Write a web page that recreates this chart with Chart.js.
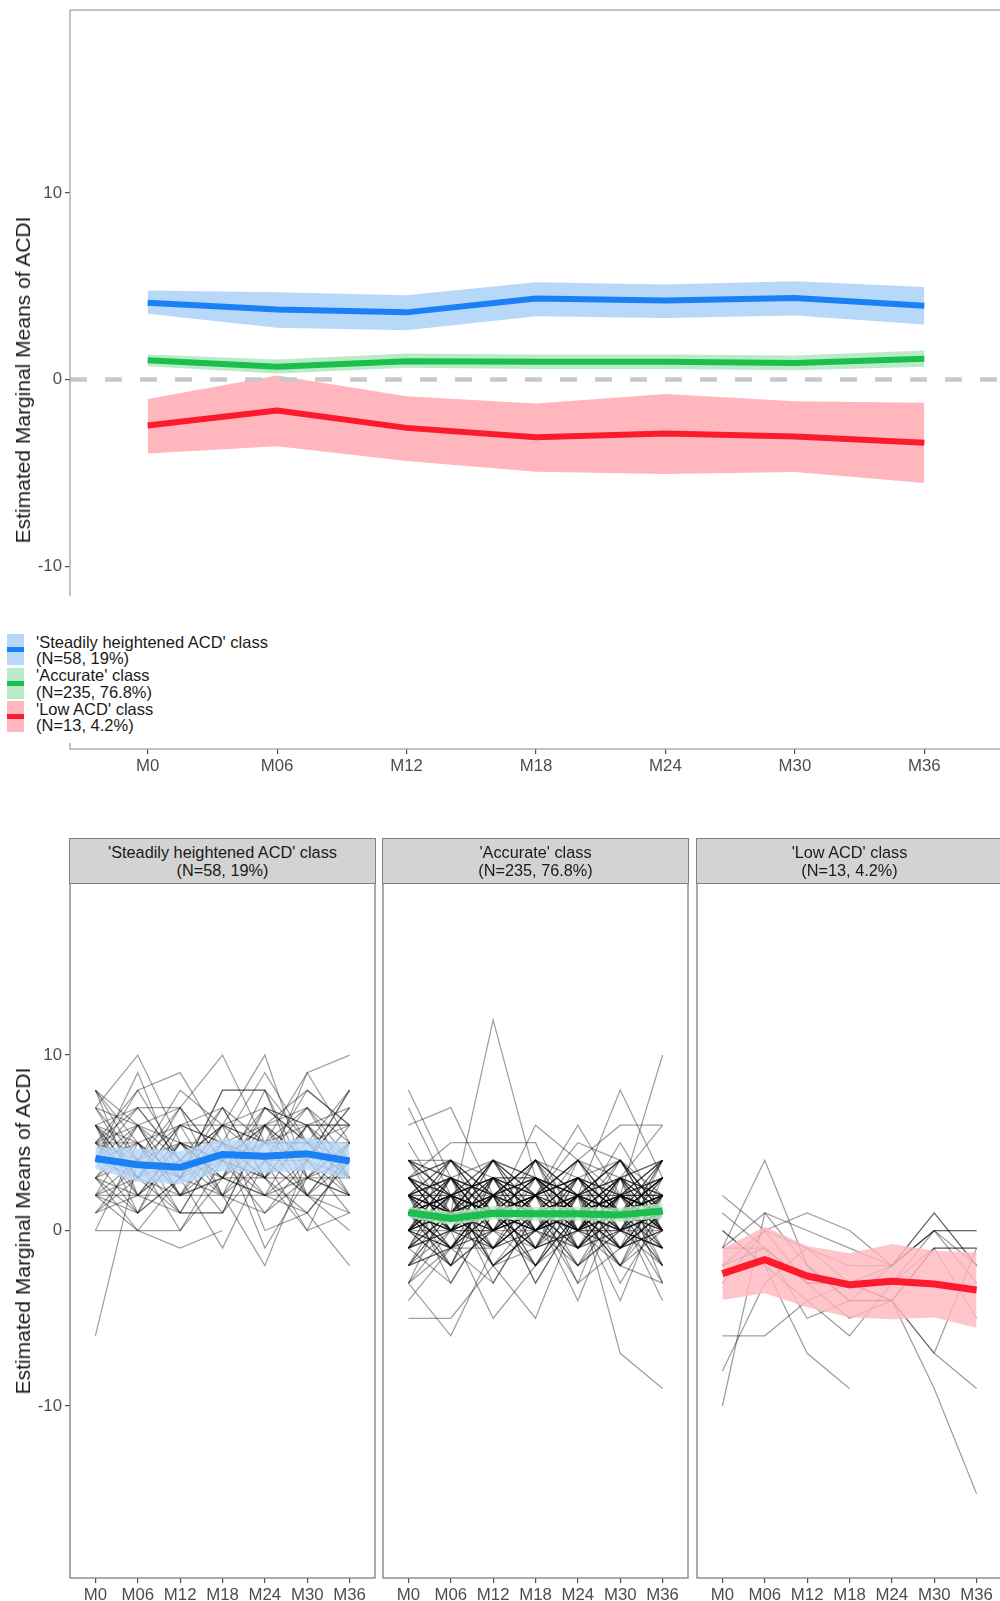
<!DOCTYPE html>
<html>
<head>
<meta charset="utf-8">
<script src="https://cdn.jsdelivr.net/npm/chart.js@4.4.1/dist/chart.umd.min.js"></script>
<style>
  html, body { margin: 0; padding: 0; background: #fff; }
  body { width: 1000px; height: 1601px; position: relative; overflow: hidden;
         font-family: "Liberation Sans", Arial, Helvetica, sans-serif; color: #1a1a1a; }
  canvas { position: absolute; }
  .ytitle { position: absolute; white-space: nowrap; font-size: 21px; color: #1a1a1a;
            transform: translate(-50%, -50%) rotate(-90deg); }
  .legend { position: absolute; left: 0; top: 596px; width: 280px; height: 147px; background: #fff; }
  .key { position: absolute; left: 7px; width: 17px; height: 31px; }
  .key div { position: absolute; left: 0; right: 0; top: 13px; height: 5px; }
  .ltext { position: absolute; left: 36px; font-size: 16.5px; line-height: 16.6px; white-space: nowrap; }
  .strip { position: absolute; box-sizing: border-box; background: #d3d3d3;
           border: 1.3px solid #808080; display: flex; align-items: center; justify-content: center;
           text-align: center; font-size: 16.3px; line-height: 18px; color: #1a1a1a; }
</style>
</head>
<body>

<canvas id="top" width="1010" height="773" style="left:0;top:0"></canvas>
<canvas id="p0" width="377" height="729" style="left:0;top:873px"></canvas>
<canvas id="p1" width="309" height="729" style="left:381px;top:873px"></canvas>
<canvas id="p2" width="309" height="729" style="left:695px;top:873px"></canvas>

<div class="ytitle" style="left:23px;top:380px">Estimated Marginal Means of ACDI</div>
<div class="ytitle" style="left:23px;top:1231px">Estimated Marginal Means of ACDI</div>

<div class="legend"></div>

<script>
'use strict'

// time points
const months = ['M0', 'M06', 'M12', 'M18', 'M24', 'M30', 'M36']
const classLabels = ["'Steadily heightened ACD' class", "'Accurate' class", "'Low ACD' class"]
const classCounts = ['(N=58, 19%)', '(N=235, 76.8%)', '(N=13, 4.2%)']

// estimated marginal means + confidence band
const blueMean  = [4.11, 3.75, 3.60, 4.34, 4.23, 4.37, 3.96]
const blueUpper = [4.77, 4.68, 4.52, 5.21, 5.09, 5.27, 4.96]
const blueLower = [3.52, 2.77, 2.64, 3.39, 3.30, 3.43, 2.95]

const greenMean  = [1.03, 0.68, 0.98, 0.95, 0.96, 0.89, 1.11]
const greenUpper = [1.34, 1.07, 1.39, 1.34, 1.34, 1.29, 1.55]
const greenLower = [0.71, 0.32, 0.63, 0.57, 0.57, 0.50, 0.68]

const redMean  = [-2.46, -1.66, -2.59, -3.09, -2.89, -3.05, -3.39]
const redUpper = [-1.04, 0.21, -0.89, -1.29, -0.77, -1.16, -1.25]
const redLower = [-3.96, -3.57, -4.37, -4.94, -5.06, -4.96, -5.54]

const refValue = 0
const yTicks = [-10, 0, 10]

// individual trajectories per class
const steadyPeople = [
    [8, 4, 3, 5, 4, 7, 5],
    [8, 6, 2, 4, 7, 5, 3],
    [7, 10, 5, 3, 6, 4, 8],
    [6, 3, 7, 10, 5, 6, 4],
    [5, 2, 4, 6, 10, 3, 2],
    [4, 8, 9, 5, 3, 9, 10],
    [3, 5, 3, 8, 8, 5, 6],
    [2, 2, 2, 2, 2, 2, 2],
    [2, 4, 0, 3, 3, 3, 3],
    [1, 3, 6, 2, 1, 4, 1],
    [0, 5, 1, 1, 4, 0, 5],
    [0, 0, 0, 4, 5, 2, 0],
    [-6, 4, 5, 5, 3, 6, 6],
    [4, 7, 4, 7, 5, 5, 5],
    [5, 7, 7, 4, 6, 8, 6],
    [6, 1, 3, 6, 0, 1, 4],
    [3, 0, -1, 0, null, null, null],
    [4, 3, 1, 1, 6, 7, 3],
    [7, 6, 7, 2, -2, 4, 7],
    [8, 2, 4, 1, 6, 4, 8],
    [3, 6, 2, 5, -1, 3, 2],
    [5, 5, 6, 6, 6, 6, 6],
    [2, 1, 3, -1, 4, 2, 1],
    [6, 4, 8, 6, 7, 5, 4],
    [1, 2, 5, 3, 2, 1, -2],
    [4, 9, 3, 8, 8, 2, 5],
    [5, 3, 5, 3, 2, 6, 7],
    [7, 4, 1, 5, 9, 5, 3],
    [3, 1, 6, 7, 3, 0, 1],
    [6, 5, 2, 3, 5, 9, 5],
    [2, 3, 4, 4, 1, 3, 4],
    [5, 6, 3, 2, 4, 4, 2],
    [4, 5, 2, 3, 7, 6, 3],
    [6, 2, 5, 4, 3, 5, 8],
    [3, 4, 6, 5, 4, 2, 5],
    [5, 8, 4, 6, 5, 7, 4],
    [2, 0, 3, 4, 6, 3, 5],
    [7, 3, 2, 6, 4, 8, 6],
    [4, 6, 5, 2, 5, 4, 3],
    [1, 4, 3, 7, 3, 6, 2],
    [6, 7, 4, 3, 8, 3, 5],
    [3, 2, 1, 5, 2, 4, 7],
    [5, 4, 7, 4, 3, 1, 4],
    [8, 5, 3, 6, 5, 5, 2],
    [2, 6, 4, 2, 7, 6, 3],
    [4, 1, 5, 4, 2, 3, 6],
    [6, 3, 6, 5, 6, 2, 4]
]

const accuratePeople = [
    [8, 3, 1, 2, 0, 1, 2],
    [7, 2, 0, 1, 3, 2, 1],
    [6, 7, 2, 0, 1, 3, 4],
    [5, 1, 12, 3, 2, 0, 1],
    [4, 4, 3, 2, 6, 2, 10],
    [4, 2, 4, 1, 2, 8, 3],
    [3, 0, 4, 2, 4, 6, 6],
    [3, 5, 5, 5, 0, 2, 2],
    [2, 3, 1, 6, 4, 1, 0],
    [2, -1, 2, 4, 3, 4, 2],
    [1, 2, 3, 3, 2, 3, 4],
    [1, 0, -1, 0, 1, -1, 0],
    [0, 1, 2, 0, -1, 2, 3],
    [0, -2, 0, 2, 0, 0, -1],
    [-1, 1, 0, -1, 2, 1, 2],
    [-1, 0, 3, 1, -2, 0, 1],
    [-2, 2, 1, -2, 1, -2, 0],
    [-2, -1, -3, 1, 3, 1, -2],
    [-3, 0, 1, 2, 0, 3, 1],
    [-3, 2, -2, 0, 2, -1, 4],
    [-4, -1, 2, -3, 1, 2, 0],
    [-5, -5, -2, 0, -1, 1, -1],
    [4, 3, 2, 4, 2, 1, 3],
    [3, 4, 1, 0, 3, 2, -1],
    [2, 1, 4, 3, 1, 0, 2],
    [1, 3, 0, 4, 2, 4, 1],
    [0, 2, -2, -1, 4, 1, 3],
    [-1, -3, 1, 2, -3, -1, 2],
    [2, 0, 2, -2, 0, 3, -3],
    [1, -2, 3, 1, -1, 2, 0],
    [0, 0, 1, 3, 2, -3, 1],
    [3, 1, -1, 2, 4, 0, 4],
    [1, 4, 2, 1, 0, 2, -2],
    [4, 0, 0, 3, 1, 3, 2],
    [-2, 1, 4, 0, 2, -2, 3],
    [2, 2, -3, 1, -2, 0, 1],
    [0, 3, 2, -3, 1, 4, 0],
    [1, -1, 0, 2, 3, 1, -4],
    [3, 2, 3, -1, 0, -1, 1],
    [-1, 1, 2, 4, -1, 3, 2],
    [2, -3, 1, 0, 2, 2, 4],
    [0, 1, 4, 2, -2, 1, 0],
    [1, 2, -2, -5, 1, -4, 2],
    [-3, -6, -1, 1, 0, -2, -3],
    [2, 0, -5, -2, 1, 0, 3],
    [1, 3, 1, 1, -4, 2, -1],
    [0, -2, 2, 3, 2, -7, -9],
    [3, 1, 0, 2, 1, 5, 1],
    [2, 4, 1, -1, 3, 1, 2],
    [-1, 0, -1, 1, 0, 3, -2],
    [1, 1, 3, 0, 2, -1, 1],
    [4, 2, 1, 3, -1, 2, 0],
    [0, 3, 0, 1, 1, 0, 4],
    [2, 1, 2, 2, 3, 1, -1],
    [-2, 0, 4, 3, 0, 2, 1],
    [1, -1, 1, -2, 2, 1, 3],
    [3, 0, 2, 1, -3, 3, 0],
    [0, 2, 3, 0, 1, -1, 2],
    [2, -2, 0, 4, 2, 0, -2],
    [1, 2, 1, 2, 5, 4, 1],
    [-1, 3, -1, 1, 1, 2, 2],
    [2, 1, 0, 0, 2, 3, 6],
    [0, -1, 2, -1, 0, 1, -3],
    [1, 0, 1, 3, 1, -2, 1],
    [1, 2, 0, 1, 3, 2, 0],
    [2, 0, 1, 3, 1, 0, 2],
    [0, 1, 3, 2, 0, 1, 1],
    [3, 2, 1, 0, 2, 3, 1],
    [1, -1, 2, 1, 0, 2, 3],
    [-1, 1, 1, 2, 1, -1, 0],
    [2, 3, 2, 1, -1, 1, 2],
    [0, 2, -1, 0, 2, 4, 1],
    [4, 1, 2, 3, 0, 0, -1],
    [1, 0, 3, -1, 1, 2, 0],
    [2, 1, -1, 2, 4, 1, 3],
    [0, -1, 0, 1, 1, 3, 2],
    [3, 4, 2, 0, 1, -1, 1],
    [1, 2, 4, 2, 3, 0, -1],
    [-1, 0, 2, 3, 1, 2, 4],
    [2, 3, 0, -2, 2, 1, 0],
    [1, 1, -2, 1, 0, 2, 1],
    [0, 4, 1, 2, -1, 0, 3],
    [3, 0, 3, 1, 2, 4, 0],
    [-2, 1, 0, 2, 3, 0, 1],
    [1, 3, 2, 4, 0, 1, 2],
    [2, -1, 1, 0, 1, 3, -1],
    [0, 2, 3, 1, 4, 2, 1],
    [4, 3, 0, 2, 1, -2, 2],
    [1, 0, 1, -1, 3, 1, 4],
    [-3, -1, 1, 0, 1, 2, 1],
    [2, 2, 3, 1, -1, 0, 0],
    [0, 1, -1, 3, 2, 1, 3],
    [3, 1, 2, 2, 0, 3, 1],
    [1, 4, 0, 1, 2, -1, 0],
    [2, 0, 2, 4, 1, 1, 2],
    [-1, 2, 1, -1, 0, 4, 1],
    [1, -2, 3, 2, 3, 0, 2],
    [0, 1, 1, 0, -2, 2, 4],
    [3, 2, -1, 1, 2, 1, -2],
    [2, 4, 2, 3, 1, 2, 1],
    [1, 0, 0, 2, 4, 3, 0],
    [0, 3, 4, 1, 0, -1, 2],
    [4, 2, 1, -1, 2, 0, 1],
    [-2, -1, 2, 1, 1, 1, 3],
    [1, 1, 1, 3, -1, 2, 1],
    [2, 3, -2, 0, 3, 1, 2],
    [0, -1, 3, 2, 2, 0, -1],
    [3, 0, 1, 4, 0, 2, 3],
    [1, 2, 2, -2, 1, 3, 0],
    [-1, 3, 0, 1, 3, -1, 1],
    [2, 1, 4, 0, 2, 2, 2],
    [0, 2, 1, 2, -1, 1, 4],
    [1, -1, -1, 1, 2, 4, 0],
    [3, 1, 3, 3, 1, 0, 1]
]

const lowPeople = [
    [-1, 4, -2, -4, -2, 0, -2],
    [-10, 1, 0, -1, -2, 1, -2],
    [-8, -3, -1, -3, -2, 0, 0],
    [-6, -6, -4, -3, -3, -1, -1],
    [2, 0, -3, -3, -4, -7, -9],
    [1, -1, -5, -4, -4, -9, -15],
    [0, -2, -7, -9, null, null, null],
    [-2, 0, 1, 0, -2, 1, -2],
    [-3, 0, -1, -2, -2, 0, 0],
    [-1, 1, -2, -4, -4, -1, -5],
    [-1, -1, -3, -5, -4, -1, -1],
    [0, -2, -4, -6, -3, 0, -3],
    [-2, -1, -3, -3, -4, -7, -1]
]

const colors = {
    blue:  { line: '#1a80f5', band: '#b8d8fa' },
    green: { line: '#1bbf4b', band: '#b9ebc8' },
    red:   { line: '#fc1b2d', band: '#ffb7bd' }
}

const tickFont = { size: 16.8, family: '"Liberation Sans", Arial' }

const xy = arr => arr.map((v, i) => ({ x: i, y: v }))

const frame = color => ({
    id: 'frame',
    afterDraw (chart) {
        const a = chart.chartArea
        const ctx = chart.ctx
        ctx.save()
        ctx.strokeStyle = color
        ctx.lineWidth = 1.3
        ctx.strokeRect(a.left, a.top, a.right - a.left, a.bottom - a.top)
        ctx.restore()
    }
})

const refLine = {
    id: 'refLine',
    afterDatasetsDraw (chart) {
        const a = chart.chartArea
        const y = chart.scales.y.getPixelForValue(refValue)
        const ctx = chart.ctx
        ctx.save()
        ctx.strokeStyle = '#c8c8c8'
        ctx.lineWidth = 4.5
        ctx.setLineDash([17, 18])
        ctx.beginPath()
        ctx.moveTo(a.left, y)
        ctx.lineTo(a.right, y)
        ctx.stroke()
        ctx.restore()
    }
}

let bandSets = (mean, upper, lower, c, bandColor, width) => ([
    { data: xy(upper), borderWidth: 0, pointRadius: 0, backgroundColor: bandColor,
      fill: '+1', order: 5 },
    { data: xy(lower), borderWidth: 0, pointRadius: 0, fill: false, order: 5 },
    { data: xy(mean), borderColor: c.line, borderWidth: width, pointRadius: 0,
      fill: false, order: 1, borderJoinStyle: 'round' }
])

let makeOptions = (showY, yWidth, padLeft, padRight) => ({
    responsive: false,
    maintainAspectRatio: false,
    animation: false,
    devicePixelRatio: 1,
    layout: { padding: { left: padLeft, right: padRight, top: 0, bottom: 0 } },
    plugins: { legend: { display: false }, tooltip: { enabled: false } },
    scales: {
        x: {
            type: 'linear', min: -0.6, max: 6.6,
            afterBuildTicks: s => { s.ticks = months.map((m, i) => ({ value: i })) },
            afterFit: s => { s.height = 24 },
            grid: { drawOnChartArea: false, drawTicks: true, tickLength: 5, color: '#4d4d4d', lineWidth: 1.2 },
            border: { display: false },
            ticks: { autoSkip: false, maxRotation: 0, padding: 2, color: '#4d4d4d',
                     font: tickFont, callback: v => months[v] }
        },
        y: {
            type: 'linear', min: -19.8, max: 19.8, display: showY,
            afterBuildTicks: s => { s.ticks = yTicks.map(v => ({ value: v })) },
            afterFit: s => { s.width = yWidth },
            grid: { drawOnChartArea: false, drawTicks: true, tickLength: 5, color: '#4d4d4d', lineWidth: 1.2 },
            border: { display: false },
            ticks: { padding: 3, color: '#4d4d4d', font: tickFont }
        }
    }
})

// build a chart whose plot area spans exactly wantTop..wantBottom on the page
let placeChart = (canvas, makeConfig, wantTop, wantBottom) => {
    let chart = new Chart(canvas.getContext('2d'), makeConfig())
    let a = chart.chartArea
    let diff = Math.round((wantBottom - wantTop) - (a.bottom - a.top))
    if (diff != 0) {
        let w = canvas.width
        let h = canvas.height + diff
        chart.destroy()
        canvas.width = w
        canvas.height = h
        canvas.style.width = w + 'px'
        canvas.style.height = h + 'px'
        chart = new Chart(canvas.getContext('2d'), makeConfig())
        a = chart.chartArea
    }
    canvas.style.top = (wantTop - a.top) + 'px'
    return chart
}

// top: all three classes together
placeChart(document.getElementById('top'), () => ({
    type: 'line',
    data: {
        datasets: [
            ...bandSets(blueMean, blueUpper, blueLower, colors.blue, colors.blue.band, 6),
            ...bandSets(greenMean, greenUpper, greenLower, colors.green, colors.green.band, 6),
            ...bandSets(redMean, redUpper, redLower, colors.red, colors.red.band, 6)
        ]
    },
    options: makeOptions(true, 70, 0, 8),
    plugins: [frame('#a3a3a3'), refLine]
}), 10, 749)

// bottom: one facet per class with individual lines
const facets = [
    { id: 'p0', people: steadyPeople, mean: blueMean, upper: blueUpper, lower: blueLower, c: colors.blue },
    { id: 'p1', people: accuratePeople, mean: greenMean, upper: greenUpper, lower: greenLower, c: colors.green },
    { id: 'p2', people: lowPeople, mean: redMean, upper: redUpper, lower: redLower, c: colors.red }
]
const panelTop = 883
const panelBottom = 1578

facets.forEach((f, k) => {
    let band = f.c.band.replace('#', '')
    let bandRgba = 'rgba(' + parseInt(band.slice(0, 2), 16) + ',' + parseInt(band.slice(2, 4), 16) + ','
        + parseInt(band.slice(4, 6), 16) + ',0.8)'

    let canvas = document.getElementById(f.id)
    let chart = placeChart(canvas, () => ({
        type: 'line',
        data: {
            datasets: [
                ...f.people.map(p => ({
                    data: xy(p), borderColor: 'rgba(0,0,0,0.38)', borderWidth: 1.25,
                    pointRadius: 0, fill: false, order: 10, spanGaps: false
                })),
                ...bandSets(f.mean, f.upper, f.lower, f.c, bandRgba, 7)
            ]
        },
        options: k == 0 ? makeOptions(true, 70, 0, 2) : makeOptions(false, 0, 2, 2),
        plugins: [frame('#7f7f7f')]
    }), panelTop, panelBottom)

    // facet strip right on top of the panel
    let a = chart.chartArea
    let strip = document.createElement('div')
    strip.className = 'strip'
    strip.style.left = (canvas.offsetLeft + a.left - 0.65) + 'px'
    strip.style.width = (a.right - a.left + 1.3) + 'px'
    strip.style.top = (panelTop - 45) + 'px'
    strip.style.height = '45.6px'
    strip.innerHTML = classLabels[k] + '<br>' + classCounts[k]
    document.body.appendChild(strip)
})

// legend for the top panel
const legend = document.querySelector('.legend')
const legendColors = [colors.blue, colors.green, colors.red]
const legendTops = [634, 667.5, 701]
legendColors.forEach((c, i) => {
    let key = document.createElement('div')
    key.className = 'key'
    key.style.top = (legendTops[i] - 596) + 'px'
    key.style.background = c.band
    key.innerHTML = '<div style="background:' + c.line + '"></div>'
    legend.appendChild(key)

    let txt = document.createElement('div')
    txt.className = 'ltext'
    txt.style.top = (legendTops[i] - 596 - 0.5) + 'px'
    txt.innerHTML = classLabels[i] + '<br>' + classCounts[i]
    legend.appendChild(txt)
})
</script>
</body>
</html>
